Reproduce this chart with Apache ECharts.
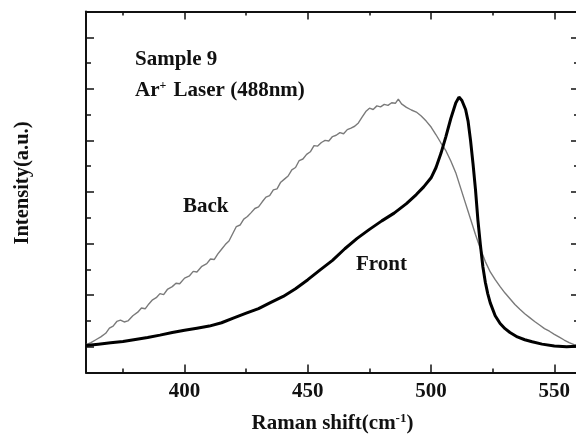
<!DOCTYPE html>
<html>
<head>
<meta charset="utf-8">
<script src="https://cdn.jsdelivr.net/npm/echarts@6/dist/echarts.min.js"></script>
<style>html,body{margin:0;padding:0;background:#fff}#c{width:576px;height:435px}</style>
</head>
<body>
<div id="c"></div>
<script>
const xMajorTicks = [400, 450, 500, 550];
const xMinorTicks = [375, 425, 475, 525];
const yMajorTicks = [1, 3, 5, 7, 9, 11, 13];
const yMinorTicks = [2, 4, 6, 8, 10, 12];
const xRange = [360, 560];
const yRange = [0, 14];

const backData = [
[360,1.08],[362,1.16],[364,1.27],[366,1.38],[368,1.52],[369.5,1.72],[371,1.8],[372.5,1.98],[374,2.03],[375.5,1.96],[377,2.0],[379,2.2],[381,2.34],[382.5,2.5],[384,2.47],[385.5,2.66],[387,2.82],[388.5,2.9],[390,3.06],[391.5,3.02],[393,3.22],[395,3.33],[396.5,3.46],[398,3.44],[400,3.66],[402,3.75],[403.5,3.92],[405,3.9],[407,4.12],[409,4.22],[410.5,4.4],[412,4.38],[413.5,4.6],[415,4.78],[416.5,4.96],[418,5.1],[419.5,5.38],[421,5.66],[422.5,5.72],[424,5.95],[425.5,6.05],[427,6.2],[428.5,6.36],[430,6.42],[431.5,6.62],[433,6.8],[434.5,6.86],[436,7.08],[437.5,7.12],[439,7.38],[440.5,7.5],[442,7.62],[443.5,7.86],[445,7.95],[446.5,8.22],[448,8.28],[449.5,8.46],[451,8.56],[452.5,8.8],[454,8.78],[455.5,8.92],[457,9.0],[458.5,8.98],[460,9.15],[461.5,9.2],[463,9.3],[464.5,9.26],[466,9.42],[467.5,9.48],[469,9.55],[470.5,9.68],[472,9.9],[473.5,10.12],[475,10.25],[476.5,10.2],[478,10.34],[479.5,10.3],[481,10.4],[482.5,10.36],[484,10.46],[485.5,10.44],[486.7,10.6],[488,10.42],[490,10.28],[492,10.18],[494,10.1],[496,9.95],[498,9.75],[500,9.52],[502,9.22],[504,8.9],[506,8.6],[508,8.2],[510,7.75],[512,7.15],[514,6.55],[516,5.95],[518,5.35],[520,4.8],[522,4.3],[524,3.9],[526,3.6],[528,3.33],[530,3.08],[532,2.86],[534,2.64],[536,2.45],[538,2.28],[540,2.13],[542,1.98],[544,1.84],[546,1.7],[548,1.6],[550,1.48],[552,1.37],[554,1.26],[556,1.16],[558,1.08],[560,1.05]
];

const frontData = [
[360,1.05],[365,1.1],[370,1.15],[375,1.2],[380,1.28],[385,1.36],[390,1.45],[395,1.55],[400,1.64],[405,1.72],[410,1.8],[415,1.93],[420,2.12],[425,2.3],[430,2.48],[435,2.72],[440,2.95],[445,3.25],[450,3.6],[455,3.98],[460,4.35],[465,4.8],[470,5.2],[475,5.55],[480,5.88],[485,6.18],[490,6.55],[494,6.9],[497,7.2],[500,7.55],[502,7.95],[504,8.5],[506,9.15],[508,9.85],[510,10.45],[511.3,10.68],[512.5,10.55],[514,10.2],[515,9.75],[516,9.0],[517,8.1],[518,7.1],[519,5.9],[520,4.95],[521,4.1],[522,3.5],[523,3.05],[524,2.7],[526,2.2],[528,1.9],[530,1.7],[532,1.55],[535,1.38],[538,1.27],[541,1.19],[545,1.1],[550,1.03],[555,1.0],[560,1.02]
];

const FONT = '"Liberation Serif", "DejaVu Serif", serif';
const INK = '#111';

function xAx(pos, ticks, len, line, label, extra) {
  return Object.assign({
    type: 'value', min: xRange[0], max: xRange[1], position: pos,
    axisLine: { show: line, onZero: false, lineStyle: { color: INK, width: 2 } },
    axisTick: { show: true, inside: true, length: len, customValues: ticks, lineStyle: { color: INK, width: 1.5 } },
    axisLabel: label ? { show: true, customValues: ticks, margin: 9, color: INK, fontFamily: FONT, fontWeight: 'bold', fontSize: 21 } : { show: false },
    splitLine: { show: false }
  }, extra || {});
}
function yAx(pos, ticks, len, line, extra) {
  return Object.assign({
    type: 'value', min: yRange[0], max: yRange[1], position: pos,
    axisLine: { show: line, onZero: false, lineStyle: { color: INK, width: 2 } },
    axisTick: { show: true, inside: true, length: len, customValues: ticks, lineStyle: { color: INK, width: 1.5 } },
    axisLabel: { show: false },
    splitLine: { show: false }
  }, extra || {});
}

const chart = echarts.init(document.getElementById('c'), null, { renderer: 'canvas' });
chart.setOption({
  animation: false,
  backgroundColor: '#fff',
  grid: { left: 86, top: 11.5, right: -3, bottom: 62.5, containLabel: false, outerBoundsMode: 'none' },
  xAxis: [
    xAx('bottom', xMajorTicks, 8, true, true, {
      name: 'Raman shift(cm{sup|-1})', nameLocation: 'middle', nameGap: 40,
      nameTextStyle: { color: INK, fontFamily: FONT, fontWeight: 'bold', fontSize: 21,
        rich: { sup: { fontFamily: FONT, fontWeight: 'bold', fontSize: 13, verticalAlign: 'top', padding: [0, 0, 10, 0], color: INK } } }
    }),
    xAx('bottom', xMinorTicks, 4, false, false),
    xAx('top', xMajorTicks, 8, true, false),
    xAx('top', xMinorTicks, 4, false, false)
  ],
  yAxis: [
    yAx('left', yMajorTicks, 8, true, {
      name: 'Intensity(a.u.)', nameLocation: 'middle', nameGap: 53, nameRotate: 90,
      nameTextStyle: { color: INK, fontFamily: FONT, fontWeight: 'bold', fontSize: 20.5, padding: [0, 0, 0, 18] }
    }),
    yAx('left', yMinorTicks, 5, false),
    yAx('right', yMajorTicks, 8, true),
    yAx('right', yMinorTicks, 5, false)
  ],
  graphic: [
    { type: 'text', left: 135, top: 49, style: { text: 'Sample 9', fill: INK, font: 'bold 21px ' + FONT } },
    { type: 'text', left: 135, top: 80, style: { text: 'Ar{sup|+} Laser (488nm)', fill: INK, font: 'bold 21px ' + FONT,
        rich: { sup: { fontSize: 12, fontWeight: 'bold', fontFamily: FONT, fill: INK, verticalAlign: 'top', padding: [0, 2, 10, 0] } } } },
    { type: 'text', left: 183, top: 196, style: { text: 'Back', fill: INK, font: 'bold 21px ' + FONT } },
    { type: 'text', left: 356, top: 254, style: { text: 'Front', fill: INK, font: 'bold 21px ' + FONT } }
  ],
  series: [
    { type: 'line', name: 'Back', data: backData, xAxisIndex: 0, yAxisIndex: 0, showSymbol: false, silent: true,
      lineStyle: { color: '#7a7a7a', width: 1.4 } },
    { type: 'line', name: 'Front', data: frontData, xAxisIndex: 0, yAxisIndex: 0, showSymbol: false, silent: true,
      lineStyle: { color: '#000', width: 3 } }
  ]
});
</script>
</body>
</html>
